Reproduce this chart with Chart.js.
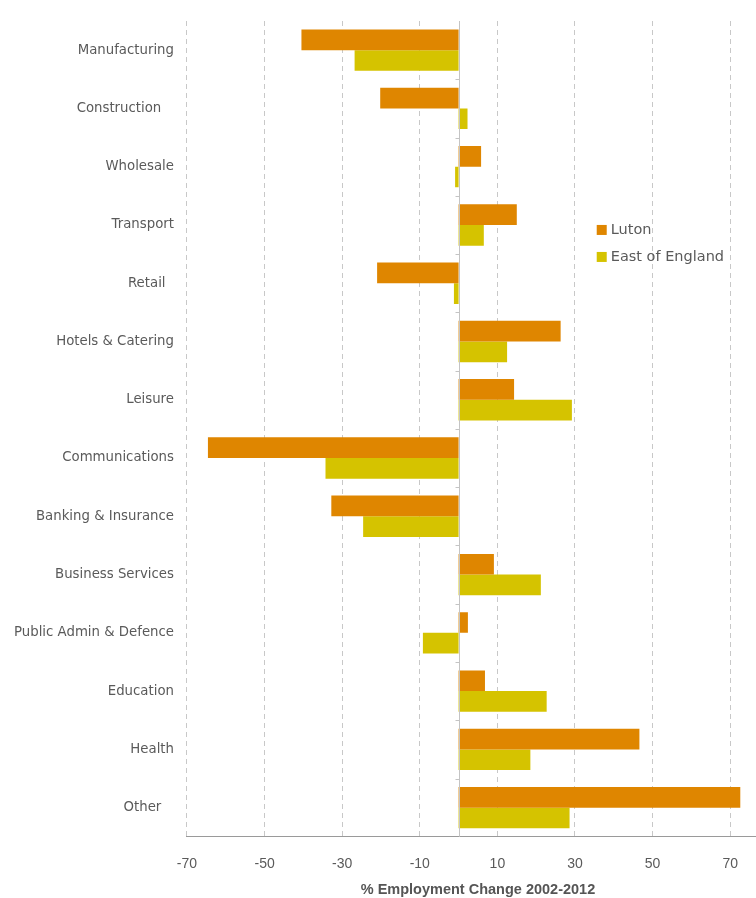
<!DOCTYPE html>
<html>
<head>
<meta charset="utf-8">
<script src="https://cdn.jsdelivr.net/npm/chart.js@4.4.1/dist/chart.umd.min.js"></script>
<style>
  html, body { margin: 0; padding: 0; background: #fff; overflow: hidden; }
  #wrap { width: 780px; height: 898px; }
</style>
</head>
<body>
<div id="wrap"><canvas id="myChart" width="780" height="898"></canvas></div>
<script>
var sectors = [
    'Manufacturing', 'Construction   ', 'Wholesale', 'Transport', 'Retail  ',
    'Hotels & Catering', 'Leisure', 'Communications', 'Banking & Insurance',
    'Business Services', 'Public Admin & Defence', 'Education', 'Health', 'Other   '
];
var luton = [-40.5, -20.2, 5.8, 15.0, -21.0, 26.3, 14.3, -64.6, -32.8, 9.1, 2.4, 6.8, 46.6, 72.6];
var eastOfEngland = [-26.8, 2.3, -0.9, 6.5, -1.2, 12.5, 29.2, -34.3, -24.6, 21.2, -9.2, 22.7, 18.5, 28.6];
var xTicks = [-70, -50, -30, -10, 10, 30, 50, 70];

var lutonColor = '#df8600';
var eastColor = '#d5c300';
var textColor = '#5a5a5a';

// zero line plus the little ticks between categories
var zeroLine = {
    id: 'zeroLine',
    afterDatasetsDraw: function (chart) {
        var ctx = chart.ctx;
        var x = chart.scales.x, y = chart.scales.y;
        var px = Math.round(x.getPixelForValue(0)) + 0.5;
        ctx.save();
        ctx.strokeStyle = '#c4c4c4';
        ctx.lineWidth = 1;
        ctx.beginPath();
        ctx.moveTo(px, chart.chartArea.top);
        ctx.lineTo(px, chart.chartArea.bottom);
        for (var i = 1; i < sectors.length; i++) {
            var py = Math.round((y.getPixelForValue(i - 1) + y.getPixelForValue(i)) / 2) + 0.5;
            ctx.moveTo(px - 4, py);
            ctx.lineTo(px, py);
        }
        ctx.stroke();
        ctx.restore();
    }
};

// legend inside the plot, right of the bars
var boxLegend = {
    id: 'boxLegend',
    afterDraw: function (chart) {
        var ctx = chart.ctx;
        var x = chart.scales.x, y = chart.scales.y;
        var left = x.getPixelForValue(35.6);
        var top = y.getPixelForValue(3);
        ctx.save();
        ctx.font = '14.5px "DejaVu Sans", sans-serif';
        ctx.textBaseline = 'middle';
        chart.data.datasets.forEach(function (ds, i) {
            var cy = top + 5 + i * 27;
            ctx.fillStyle = ds.backgroundColor;
            ctx.fillRect(left, cy - 5, 10, 10);
            ctx.fillStyle = textColor;
            ctx.fillText(ds.label, left + 14, cy);
        });
        ctx.restore();
    }
};

var config = {
    type: 'bar',
    data: {
        labels: sectors,
        datasets: [
            { label: 'Luton', data: luton, backgroundColor: lutonColor },
            { label: 'East of England', data: eastOfEngland, backgroundColor: eastColor }
        ]
    },
    options: {
        indexAxis: 'y',
        responsive: false,
        animation: false,
        datasets: {
            bar: { barPercentage: 1.0, categoryPercentage: 0.71 }
        },
        layout: {
            padding: { top: 21, left: 9, right: 11, bottom: 0 }
        },
        scales: {
            x: {
                min: -70,
                max: 80,
                afterBuildTicks: function (scale) {
                    scale.ticks = xTicks.map(function (v) { return { value: v }; });
                },
                grid: {
                    color: '#c8c8c8',
                    drawTicks: false
                },
                border: { display: true, color: '#9a9a9a', dash: [5, 4] },
                ticks: {
                    color: textColor,
                    padding: 19,
                    font: { family: '"Liberation Sans", Arial, sans-serif', size: 14 }
                },
                title: {
                    display: true,
                    text: '% Employment Change 2002-2012',
                    color: '#555',
                    padding: { top: -10, bottom: -1 },
                    font: { family: '"Liberation Sans", Arial, sans-serif', size: 14.5, weight: 'bold' }
                }
            },
            y: {
                grid: { display: false },
                border: { display: false },
                ticks: {
                    color: textColor,
                    padding: 5,
                    font: { family: '"DejaVu Sans", sans-serif', size: 13.3 }
                }
            }
        },
        plugins: {
            legend: { display: false },
            tooltip: { enabled: false }
        }
    },
    plugins: [zeroLine, boxLegend]
};

var myChart = new Chart(document.getElementById('myChart').getContext('2d'), config);
</script>
</body>
</html>
